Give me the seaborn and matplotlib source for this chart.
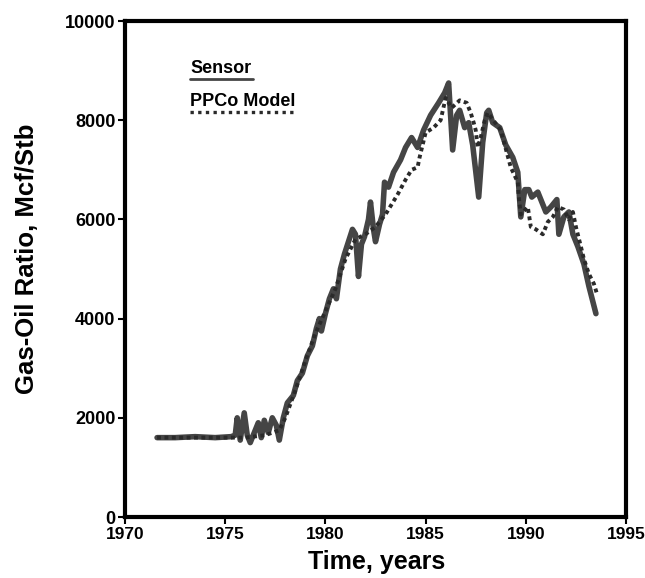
import numpy as np
import pandas as pd
import matplotlib
matplotlib.use("Agg")
import matplotlib.pyplot as plt
import seaborn as sns

# ---------------- data ----------------
sensor_year = [1971.6, 1972.5, 1973.5, 1974.5, 1975.3, 1975.5, 1975.6, 1975.75, 1975.95,
               1976.1, 1976.25, 1976.45, 1976.65, 1976.8, 1976.95, 1977.15, 1977.35,
               1977.55, 1977.7, 1977.9, 1978.1, 1978.4, 1978.6, 1978.85, 1979.1,
               1979.35, 1979.55, 1979.7, 1979.8, 1980.0, 1980.2, 1980.4, 1980.55,
               1980.75, 1980.95, 1981.15, 1981.35, 1981.5, 1981.65, 1981.8, 1981.95,
               1982.15, 1982.25, 1982.4, 1982.5, 1982.7, 1982.85, 1982.95, 1983.15,
               1983.4, 1983.75, 1984.0, 1984.3, 1984.6, 1984.9, 1985.25, 1985.65,
               1985.95, 1986.15, 1986.35, 1986.55, 1986.7, 1986.95, 1987.15, 1987.35,
               1987.65, 1987.85, 1988.05, 1988.15, 1988.35, 1988.7, 1989.0, 1989.35,
               1989.6, 1989.75, 1989.95, 1990.15, 1990.3, 1990.6, 1990.8, 1991.0,
               1991.25, 1991.55, 1991.65, 1991.9, 1992.15, 1992.35, 1992.6, 1992.9,
               1993.15, 1993.5]
sensor_gor = [1600, 1600, 1620, 1600, 1620, 1650, 2000, 1550, 2100,
              1650, 1500, 1700, 1900, 1600, 1950, 1700, 2000,
              1850, 1550, 2000, 2300, 2450, 2750, 2900, 3250,
              3450, 3800, 4000, 3750, 4100, 4400, 4600, 4400,
              5000, 5300, 5550, 5800, 5700, 4850, 5500, 5650,
              6000, 6350, 5800, 5550, 5900, 6100, 6750, 6650,
              6950, 7200, 7450, 7650, 7450, 7800, 8100, 8350,
              8550, 8750, 7400, 8100, 8200, 7850, 7950, 7500,
              6450, 7550, 8150, 8200, 7950, 7850, 7500, 7250,
              6950, 6050, 6600, 6600, 6450, 6550, 6350, 6150,
              6250, 6400, 5700, 6050, 6150, 5700, 5450, 5100,
              4650, 4100]

model_year = [1971.6, 1973.0, 1975.0, 1976.0, 1977.0, 1977.7, 1978.0, 1978.5, 1979.0,
              1979.5, 1980.0, 1980.5, 1981.0, 1981.5, 1982.0, 1982.5, 1983.0, 1983.3,
              1983.6, 1984.0, 1984.3, 1984.6, 1984.7, 1985.0, 1985.4, 1985.75, 1986.0,
              1986.3, 1986.7, 1987.05, 1987.25, 1987.4, 1987.5, 1987.6, 1987.75,
              1987.95, 1988.1, 1988.75, 1989.25, 1989.6, 1989.65, 1989.75, 1990.1,
              1990.25, 1990.5, 1990.85, 1991.1, 1991.35, 1991.6, 1991.9, 1992.15,
              1992.35, 1992.5, 1992.75, 1992.9, 1993.15, 1993.4, 1993.55]
model_gor = [1600, 1600, 1600, 1600, 1650, 1750, 2000, 2550, 3150,
             3700, 4150, 4600, 5200, 5600, 5700, 5850, 6100, 6300,
             6500, 6800, 7000, 7050, 7250, 7750, 7850, 8000, 8450,
             8250, 8400, 8350, 8150, 7950, 7800, 7450, 7650,
             8000, 8150, 7800, 7050, 6750, 6450, 6100, 6250,
             5850, 5800, 5700, 5950, 6050, 6250, 6200, 6000,
             6150, 5850, 5450, 5200, 4900, 4700, 4500]

x_ticks = [1970, 1975, 1980, 1985, 1990, 1995]
y_ticks = [0, 2000, 4000, 6000, 8000, 10000]
series_names = ["Sensor", "PPCo Model"]

# ---------------- plot ----------------
sns.set_style("ticks")
plt.rcParams["font.family"] = ["Liberation Sans", "DejaVu Sans"]
plt.rcParams["text.color"] = "black"
plt.rcParams["axes.labelcolor"] = "black"
plt.rcParams["xtick.color"] = "black"
plt.rcParams["ytick.color"] = "black"

fig = plt.figure(figsize=(6.45, 5.78), dpi=100)
ax = fig.add_axes([125 / 645, 61 / 578, 501 / 645, 496 / 578])

sensor_df = pd.DataFrame({"year": sensor_year, "gor": sensor_gor})
model_df = pd.DataFrame({"year": model_year, "gor": model_gor})

sns.lineplot(data=sensor_df, x="year", y="gor", ax=ax, sort=False, estimator=None,
             color="#454545", linewidth=4.0, zorder=2)
sns.lineplot(data=model_df, x="year", y="gor", ax=ax, sort=False, estimator=None,
             color="#2a2a2a", linewidth=2.8, linestyle=(0, (1.0, 0.9)),
             dash_capstyle="butt", zorder=3)

ax.set_xlim(1970, 1995)
ax.set_ylim(0, 10000)
ax.set_xticks(x_ticks)
ax.set_yticks(y_ticks)
ax.set_xticklabels([str(t) for t in x_ticks], fontsize=12.5, fontweight="bold")
ax.set_yticklabels([str(t) for t in y_ticks], fontsize=13, fontweight="bold")
ax.tick_params(axis="both", direction="out", length=5, width=1.5,
               color="black", labelcolor="black", pad=2)

for sp in ax.spines.values():
    sp.set_visible(True)
    sp.set_linewidth(3.0)
    sp.set_color("black")

ax.set_xlabel("Time, years", fontsize=18, fontweight="bold", color="black")
ax.set_ylabel("Gas-Oil Ratio, Mcf/Stb", fontsize=18.5, fontweight="bold", color="black")
ax.xaxis.set_label_coords(0.503, -0.066)
ax.yaxis.set_label_coords(-0.172, 0.52)

# legend drawn as in the original (text with a line sample beneath)
ax.text(0.130, 0.895, series_names[0], transform=ax.transAxes, fontsize=13,
        fontweight="bold", va="baseline", ha="left", color="black")
ax.plot([0.130, 0.256], [0.883, 0.883], transform=ax.transAxes, color="#454545",
        linewidth=2.0)
ax.text(0.130, 0.829, series_names[1], transform=ax.transAxes, fontsize=13,
        fontweight="bold", va="baseline", ha="left", color="black")
ax.plot([0.130, 0.335], [0.817, 0.817], transform=ax.transAxes, color="#2a2a2a",
        linewidth=2.4, linestyle=(0, (1.0, 1.3)))

fig.savefig("out.png", dpi=100)
